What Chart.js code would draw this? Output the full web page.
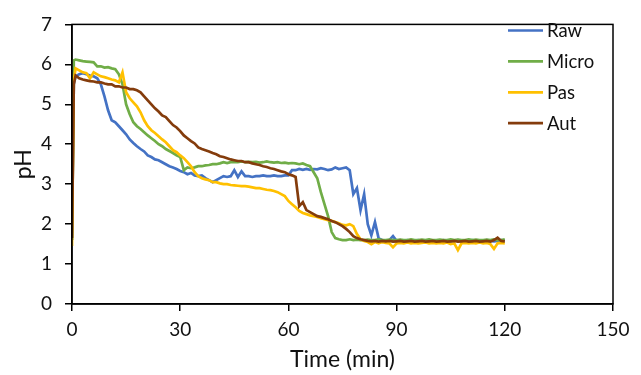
<!DOCTYPE html>
<html><head><meta charset="utf-8">
<script src="https://cdn.jsdelivr.net/npm/chart.js@4/dist/chart.umd.min.js"></script>
<style>html,body{margin:0;padding:0;background:#fff}#wrap{width:641px;height:375px}</style>
</head><body><div id="wrap"><canvas id="c" width="641" height="375"></canvas></div>
<script>
const seriesNames = ['Raw', 'Micro', 'Pas', 'Aut'];
const xTickValues = [0, 30, 60, 90, 120, 150];
const yTickValues = [0, 1, 2, 3, 4, 5, 6, 7];
const timeMin = [0, 0.5,
1,2,3,4,5,6,7,8,9,10,
11,12,13,14,15,16,17,18,19,20,
21,22,23,24,25,26,27,28,29,30,
31,32,33,34,35,36,37,38,39,40,
41,42,43,44,45,46,47,48,49,50,
51,52,53,54,55,56,57,58,59,60,
61,62,63,64,65,66,67,68,69,70,
71,72,73,74,75,76,77,78,79,80,
81,82,83,84,85,86,87,88,89,90,
91,92,93,94,95,96,97,98,99,100,
101,102,103,104,105,106,107,108,109,110,
111,112,113,114,115,116,117,118,119,120];
const rawPH = [1.6, 5.5,
5.7, 5.75, 5.78, 5.75, 5.72, 5.7, 5.65, 5.5, 5.2, 4.85,
4.6, 4.55, 4.45, 4.35, 4.25, 4.12, 4.03, 3.95, 3.88, 3.82,
3.72, 3.68, 3.62, 3.6, 3.55, 3.5, 3.45, 3.42, 3.38, 3.33,
3.3, 3.25, 3.28, 3.22, 3.2, 3.22, 3.15, 3.1, 3.05, 3.1,
3.15, 3.2, 3.18, 3.2, 3.35, 3.18, 3.32, 3.2, 3.2, 3.18,
3.2, 3.2, 3.22, 3.2, 3.2, 3.22, 3.2, 3.2, 3.22, 3.22,
3.35, 3.35, 3.38, 3.36, 3.38, 3.36, 3.38, 3.37, 3.4, 3.38,
3.35, 3.37, 3.42, 3.38, 3.4, 3.42, 3.35, 2.75, 2.9, 2.35,
2.75, 2.0, 1.72, 2.05, 1.65, 1.6, 1.58, 1.6, 1.7, 1.58,
1.6, 1.58, 1.6, 1.57, 1.58, 1.6, 1.58, 1.57, 1.6, 1.58,
1.57, 1.58, 1.6, 1.58, 1.57, 1.58, 1.6, 1.58, 1.57, 1.58,
1.6, 1.58, 1.57, 1.58, 1.6, 1.58, 1.57, 1.58, 1.6, 1.58];
const microPH = [1.6, 6.1,
6.12, 6.1, 6.08, 6.07, 6.06, 6.05, 5.95, 5.95, 5.92, 5.93,
5.9, 5.88, 5.75, 5.5, 5.0, 4.75, 4.55, 4.45, 4.38, 4.3,
4.22, 4.15, 4.08, 4.0, 3.95, 3.88, 3.83, 3.78, 3.72, 3.68,
3.35, 3.42, 3.4, 3.42, 3.45, 3.45, 3.47, 3.48, 3.5, 3.5,
3.52, 3.55, 3.53, 3.55, 3.56, 3.55, 3.57, 3.55, 3.56, 3.55,
3.56, 3.54, 3.55, 3.57, 3.55, 3.54, 3.55, 3.53, 3.54, 3.52,
3.53, 3.52, 3.5, 3.52, 3.48, 3.45, 3.3, 3.15, 2.8, 2.5,
2.2, 1.8, 1.65, 1.62, 1.6, 1.6, 1.62, 1.6, 1.61, 1.6,
1.6, 1.61, 1.6, 1.6, 1.62, 1.6, 1.6, 1.61, 1.6, 1.6,
1.61, 1.6, 1.6, 1.62, 1.6, 1.6, 1.61, 1.6, 1.62, 1.6,
1.6, 1.61, 1.6, 1.6, 1.62, 1.6, 1.61, 1.6, 1.6, 1.62,
1.6, 1.61, 1.6, 1.6, 1.61, 1.6, 1.62, 1.6, 1.6, 1.62];
const pasPH = [1.45, 5.6,
5.9, 5.85, 5.8, 5.78, 5.65, 5.8, 5.75, 5.7, 5.68, 5.65,
5.62, 5.6, 5.55, 5.8, 5.3, 5.15, 5.05, 4.95, 4.8, 4.6,
4.45, 4.35, 4.28, 4.2, 4.12, 4.05, 3.95, 3.85, 3.8, 3.72,
3.65, 3.55, 3.45, 3.3, 3.2, 3.15, 3.12, 3.1, 3.05, 3.05,
3.02, 3.0, 3.0, 2.98, 2.97, 2.96, 2.95, 2.95, 2.94, 2.92,
2.9, 2.9, 2.88, 2.86, 2.85, 2.83, 2.8, 2.75, 2.7, 2.58,
2.5, 2.42, 2.33, 2.28, 2.25, 2.22, 2.2, 2.18, 2.15, 2.12,
2.1, 2.08, 2.05, 2.02, 1.98, 1.97, 2.0, 1.95, 1.75, 1.62,
1.58, 1.55, 1.5, 1.55, 1.52, 1.55, 1.53, 1.52, 1.42, 1.52,
1.53, 1.52, 1.54, 1.52, 1.53, 1.52, 1.53, 1.54, 1.52, 1.53,
1.52, 1.53, 1.52, 1.54, 1.5, 1.52, 1.35, 1.52, 1.53, 1.52,
1.53, 1.52, 1.54, 1.52, 1.53, 1.5, 1.38, 1.52, 1.53, 1.52];
const autPH = [1.65, 5.5,
5.72, 5.65, 5.62, 5.6, 5.58, 5.57, 5.55, 5.55, 5.52, 5.5,
5.5, 5.45, 5.45, 5.42, 5.42, 5.38, 5.38, 5.35, 5.3, 5.2,
5.1, 5.0, 4.9, 4.82, 4.72, 4.68, 4.58, 4.48, 4.42, 4.33,
4.22, 4.15, 4.08, 4.02, 3.92, 3.88, 3.85, 3.82, 3.78, 3.75,
3.7, 3.68, 3.65, 3.62, 3.6, 3.58, 3.58, 3.55, 3.55, 3.52,
3.5, 3.48, 3.45, 3.43, 3.4, 3.38, 3.35, 3.32, 3.3, 3.25,
3.22, 3.18, 2.45, 2.55, 2.35, 2.3, 2.25, 2.2, 2.18, 2.15,
2.12, 2.08, 2.05, 2.0, 1.95, 1.88, 1.8, 1.7, 1.65, 1.62,
1.6, 1.58, 1.57, 1.58, 1.56, 1.58, 1.57, 1.58, 1.56, 1.57,
1.58, 1.56, 1.57, 1.58, 1.56, 1.57, 1.58, 1.56, 1.57, 1.58,
1.56, 1.57, 1.58, 1.56, 1.57, 1.58, 1.56, 1.57, 1.58, 1.56,
1.57, 1.58, 1.56, 1.57, 1.58, 1.56, 1.6, 1.66, 1.58, 1.57];
const seriesColors = ['#4472C4', '#70AD47', '#FFC000', '#843C0C'];
const seriesValues = [rawPH, microPH, pasPH, autPH];

const FONT = 'Lato, "Liberation Sans", sans-serif';
const TEXT = '#111';

function pts(vals) { return timeMin.map((t, i) => ({ x: t, y: vals[i] })); }

const datasets = seriesNames.map((name, i) => ({
  label: name,
  data: pts(seriesValues[i]),
  borderColor: seriesColors[i],
  backgroundColor: seriesColors[i],
  borderWidth: 2.7,
  pointRadius: 0,
  tension: 0,
  fill: false,
  showLine: true,
  order: seriesNames.length - i
}));

const frameAndLegend = {
  id: 'frameAndLegend',
  afterDatasetsDraw(chart) {
    const { ctx, chartArea: a } = chart;
    ctx.save();
    ctx.strokeStyle = '#000';
    ctx.lineWidth = 1.5;
    ctx.strokeRect(a.left, a.top, a.right - a.left, a.bottom - a.top);
    ctx.restore();
  },
  afterDraw(chart) {
    const ctx = chart.ctx;
    ctx.save();
    chart.data.datasets.forEach((ds, i) => {
      const y = 30.5 + i * 30.9;
      ctx.strokeStyle = ds.borderColor;
      ctx.lineWidth = 2.7;
      ctx.beginPath();
      ctx.moveTo(508, y);
      ctx.lineTo(543, y);
      ctx.stroke();
      ctx.fillStyle = TEXT;
      ctx.font = '18.5px ' + FONT;
      ctx.textBaseline = 'middle';
      ctx.textAlign = 'left';
      ctx.fillText(ds.label, 547, y + 1);
    });
    ctx.restore();
  }
};

new Chart(document.getElementById('c'), {
  type: 'scatter',
  data: { datasets },
  plugins: [frameAndLegend],
  options: {
    responsive: false,
    animation: false,
    layout: { padding: { top: 8, right: 28, left: 0, bottom: 0 } },
    plugins: { legend: { display: false }, tooltip: { enabled: false } },
    scales: {
      x: {
        type: 'linear', min: 0, max: 150,
        afterFit: s => { s.height = 71; },
        afterBuildTicks: s => { s.ticks = xTickValues.map(v => ({ value: v })); },
        ticks: { color: TEXT, font: { family: FONT, size: 19 }, padding: 7, maxRotation: 0 },
        grid: { drawOnChartArea: false, drawTicks: true, tickLength: 7, color: '#000', lineWidth: 1.5 },
        border: { display: true, color: '#000', width: 1.5 },
        title: { display: true, text: 'Time (min)', color: TEXT, font: { family: FONT, size: 23 }, padding: { top: 0, bottom: 2 } }
      },
      y: {
        type: 'linear', min: 0, max: 7,
        afterFit: s => { s.width = 72; },
        afterBuildTicks: s => { s.ticks = yTickValues.map(v => ({ value: v })); },
        ticks: { color: TEXT, font: { family: FONT, size: 19 }, padding: 13 },
        grid: { drawOnChartArea: false, drawTicks: true, tickLength: 7, color: '#000', lineWidth: 1.5 },
        border: { display: true, color: '#000', width: 1.5 },
        title: { display: true, text: 'pH', color: TEXT, font: { family: FONT, size: 23 }, padding: { top: 10, bottom: 0 } }
      }
    }
  }
});
</script>
</body></html>
